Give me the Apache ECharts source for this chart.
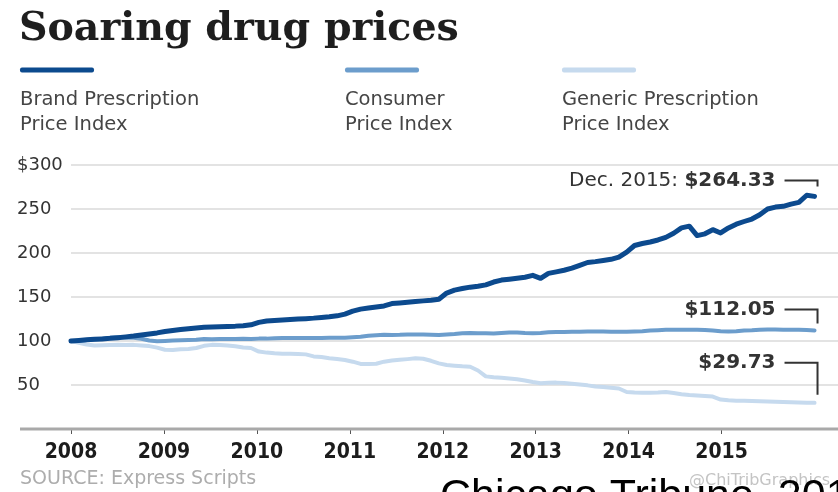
<!DOCTYPE html>
<html><head><meta charset="utf-8">
<script src="https://cdn.jsdelivr.net/npm/echarts@6/dist/echarts.min.js"></script>
<style>html,body{margin:0;padding:0;background:#fff}#c{width:838px;height:492px}</style>
</head><body><div id="c"></div>
<script>
// ---------------- data ----------------
const yearLabels = ['2008','2009','2010','2011','2012','2013','2014','2015'];
const monthNames = ['Jan','Feb','Mar','Apr','May','Jun','Jul','Aug','Sep','Oct','Nov','Dec'];

const brand = [
  100.0,100.7,101.3,101.9,102.4,103.0,103.8,104.7,105.6,106.7,108.0,109.2,
  110.8,112.0,113.0,113.9,114.7,115.5,116.0,116.3,116.6,116.9,117.4,118.4,
  121.2,122.8,123.4,123.8,124.3,124.9,125.4,126.0,126.8,127.6,128.6,130.6,
  134.0,136.2,137.4,138.6,139.8,142.5,143.2,144.0,144.9,145.6,146.3,147.5,
  154.5,157.8,159.6,161.2,162.3,163.8,167.0,169.2,170.2,171.3,172.5,174.6,
  171.2,176.8,178.6,180.4,182.8,186.0,189.2,190.2,191.5,192.8,195.3,201.0,
  208.5,210.8,212.5,214.8,217.8,222.5,228.5,230.5,219.8,221.8,226.5,222.8,
  228.5,232.8,235.8,238.6,243.5,250.0,252.2,253.0,255.5,257.5,265.6,264.33
];
const cpi = [
  100.0,100.3,101.2,101.8,102.6,103.7,104.2,103.8,103.6,102.6,100.6,99.6,
  100.0,100.5,100.8,101.0,101.3,102.2,102.0,102.3,102.3,102.4,102.5,102.3,
  102.7,102.7,103.1,103.3,103.4,103.3,103.3,103.4,103.5,103.6,103.7,103.8,
  104.3,104.8,105.9,106.6,107.1,106.9,107.0,107.3,107.5,107.3,107.2,106.9,
  107.4,107.9,108.7,109.0,108.9,108.7,108.5,109.1,109.6,109.6,109.1,108.8,
  109.1,110.0,110.3,110.2,110.4,110.6,110.7,110.8,110.9,110.6,110.4,110.4,
  110.8,111.2,111.9,112.3,112.7,112.9,112.9,112.7,112.8,112.5,111.9,111.2,
  110.7,111.2,111.9,112.1,112.7,113.1,113.1,112.9,112.7,112.7,112.4,112.05
];
const generic = [
  100.0,98.0,96.0,95.0,95.2,95.5,95.8,95.5,95.6,95.0,94.2,92.5,
  90.0,89.8,90.5,91.0,92.0,94.5,95.6,95.4,95.0,94.0,92.6,92.0,
  88.0,86.8,86.0,85.6,85.4,85.2,84.8,82.5,81.8,80.5,79.5,78.4,
  76.5,74.0,73.8,74.2,76.5,77.8,78.6,79.4,80.3,79.8,77.5,74.6,
  72.8,72.0,71.2,70.8,66.5,59.8,58.8,58.2,57.5,56.6,55.2,53.4,
  52.0,52.5,52.7,52.3,51.5,50.5,49.6,48.2,47.6,46.8,46.0,42.0,
  41.4,41.2,41.3,41.5,42.0,41.0,39.6,38.6,38.0,37.4,36.8,33.5,
  32.6,32.2,32.0,31.7,31.5,31.3,31.0,30.8,30.5,30.2,29.9,29.73
];
const seriesNames = ['Brand Prescription\nPrice Index', 'Consumer\nPrice Index', 'Generic Prescription\nPrice Index'];
const endLabelPrefix = ['Dec. 2015: ', '', ''];
const endLabelValues = ['$264.33', '$112.05', '$29.73'];
const yTickValues = [0, 50, 100, 150, 200, 250, 300];

// ---------------- style / layout ----------------
const colors = ['#0c4a8e', '#6c9dcc', '#c6daee'];
const widths = [5, 4, 4];
const sans = "'DejaVu Sans', sans-serif";
const narrow = "'Liberation Sans Narrow', 'DejaVu Sans Condensed', sans-serif";
const GRID_L = 71, GRID_TOP = 165, GRID_BOTTOM = 63;
const PAD_CATS = 3;                       // empty slots so gridlines run to the right edge
const STEP = 746 / 95;                    // px per month slot
const GRID_R = 838 - (GRID_L + (brand.length - 1 + PAD_CATS) * STEP);
const YEAR_SPAN = (brand.length - 1 + PAD_CATS) * 8 / (brand.length - 1);
const legendX = [20, 345, 562];
const bracketRise = [16, 21, 40];        // bracket top above the end point
const bracketGap = [10, 7, 8];           // bracket bottom above the end point

const months = [];
yearLabels.forEach(y => monthNames.forEach(m => months.push(m + ' ' + y)));
const categories = months.concat(new Array(PAD_CATS).fill(''));
const yearValues = yearLabels.map(Number);

const chart = echarts.init(document.getElementById('c'), null, {renderer: 'canvas'});

const dataSets = [brand, cpi, generic];
const series = [2, 1, 0].map(k => ({
  name: seriesNames[k],
  type: 'line',
  xAxisIndex: 0,
  data: dataSets[k],
  showSymbol: false,
  silent: true,
  z: 3 + (2 - k),
  lineStyle: {color: colors[k], width: widths[k], cap: 'round', join: 'round'},
  itemStyle: {color: colors[k]}
}));

const baseGraphic = [
  {id: 'title', type: 'text', left: 19, top: 10, z: 100,
   style: {text: 'Soaring drug prices', fill: '#1e1e1e', font: "bold 39.5px 'DejaVu Serif', serif"}},
  {id: 'src', type: 'text', left: 20, top: 470, z: 100,
   style: {text: 'SOURCE: Express Scripts', fill: '#adadad', font: '19px ' + sans}},
  {id: 'handle', type: 'text', left: 689, top: 473, z: 100,
   style: {text: '@ChiTribGraphics', fill: '#c4c4c4', font: '16px ' + sans}},
  {id: 'credit', type: 'text', left: 440, top: 476, z: 101,
   style: {text: 'Chicago Tribune, 2016', fill: '#000', font: "43px 'Liberation Sans', Arial, sans-serif"}}
];
seriesNames.forEach((n, k) => {
  baseGraphic.push({id: 'lg' + k, type: 'rect', z: 100,
    shape: {x: legendX[k], y: 67.5, width: 74, height: 5, r: 2}, style: {fill: colors[k]}});
  baseGraphic.push({id: 'lt' + k, type: 'text', left: legendX[k], top: 87, z: 100,
    style: {text: n, fill: '#454545', font: '19.5px ' + sans, lineHeight: 25}});
});

chart.setOption({
  animation: false,
  backgroundColor: '#fff',
  grid: {left: GRID_L, right: GRID_R, top: GRID_TOP, bottom: GRID_BOTTOM, containLabel: false},
  xAxis: [
    {type: 'category', data: categories, boundaryGap: false, show: false},
    {type: 'value', min: yearValues[0], max: yearValues[0] + YEAR_SPAN, interval: 1,
     position: 'bottom',
     axisLine: {show: false},
     splitLine: {show: false},
     axisTick: {show: true, length: 5, customValues: yearValues, lineStyle: {color: '#555', width: 1}},
     axisLabel: {customValues: yearValues, margin: 13, formatter: v => String(v),
                 fontFamily: narrow, fontWeight: 'bold', fontSize: 21, color: '#1c1c1c'}}
  ],
  yAxis: {
    type: 'value', min: 0, max: 300, interval: 50,
    axisLine: {show: false}, axisTick: {show: false},
    axisLabel: {
      customValues: yTickValues,
      formatter: v => v === 0 ? '' : (v === 300 ? '$' + v : String(v)),
      align: 'left', margin: GRID_L - 17,
      fontFamily: sans, fontSize: 18, color: '#333'
    },
    splitLine: {lineStyle: {color: '#e3e3e3', width: 2}}
  },
  series: series,
  graphic: {elements: baseGraphic}
});

// axis bar and end annotations, positioned through the chart's own scales
const extra = [];
const zeroY = chart.convertToPixel({yAxisIndex: 0}, 0);
extra.push({id: 'axisbar', type: 'line', z: 1,
  shape: {x1: 20, y1: zeroY, x2: 838, y2: zeroY},
  style: {stroke: '#a9a9a9', lineWidth: 3}});
dataSets.forEach((d, k) => {
  const last = d.length - 1;
  const p = chart.convertToPixel({xAxisIndex: 0, yAxisIndex: 0}, [last, d[last]]);
  const bx = p[0] + 3, top = p[1] - bracketRise[k], bot = p[1] - bracketGap[k];
  extra.push({id: 'br' + k, type: 'polyline', z: 100,
    shape: {points: [[bx - 33, top], [bx, top], [bx, bot]]},
    style: {stroke: '#333', lineWidth: 2, fill: null}});
  extra.push({id: 'et' + k, type: 'text', z: 100, x: bx - 42, y: top,
    style: {
      text: (endLabelPrefix[k] ? '{a|' + endLabelPrefix[k] + '}' : '') + '{b|' + endLabelValues[k] + '}',
      align: 'right', verticalAlign: 'middle',
      rich: {
        a: {fontFamily: sans, fontSize: 20, fill: '#333', color: '#333'},
        b: {fontFamily: sans, fontSize: 20, fontWeight: 'bold', fill: '#333', color: '#333'}
      }
    }});
});
chart.setOption({graphic: {elements: extra}});
</script>
</body></html>
